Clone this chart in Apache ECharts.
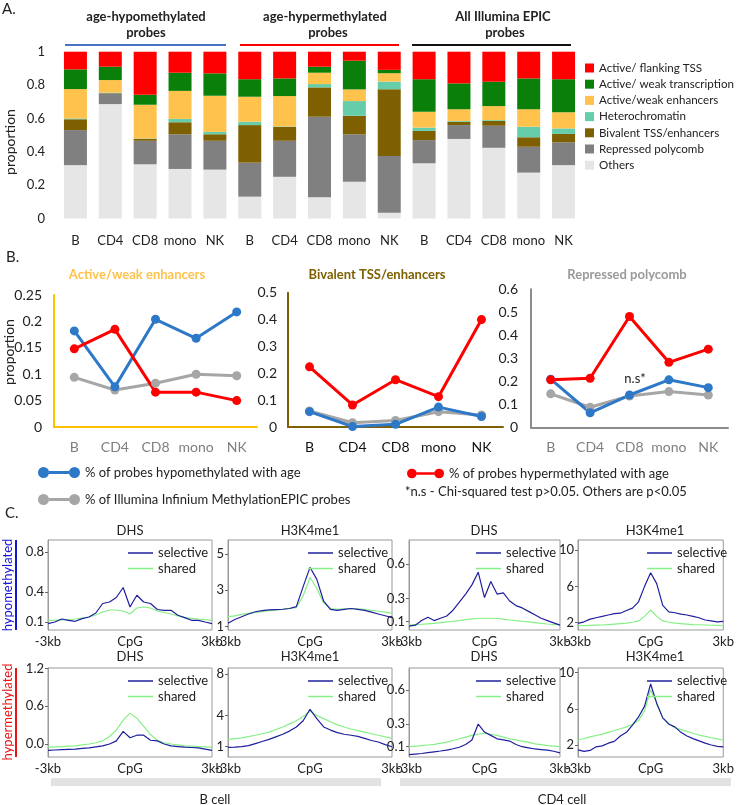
<!DOCTYPE html>
<html><head><meta charset="utf-8">
<script src="https://cdn.jsdelivr.net/npm/echarts@6/dist/echarts.min.js"></script>
<style>html,body{margin:0;padding:0;background:#fff}#c{width:737px;height:805px}</style>
</head><body><div id="c"></div>
<script>
// ---------- Panel A data ----------
const cellCats = ['B','CD4','CD8','mono','NK','B','CD4','CD8','mono','NK','B','CD4','CD8','mono','NK'];
const stateNames = ['Others','Repressed polycomb','Bivalent TSS/enhancers','Heterochromatin','Active/weak enhancers','Active/ weak transcription','Active/ flanking TSS'];
const others      = [0.32,0.686,0.325,0.297,0.293, 0.131,0.25,0.127,0.22,0.035, 0.331,0.477,0.424,0.275,0.32];
const repressed   = [0.21,0.064,0.141,0.208,0.173, 0.204,0.216,0.483,0.285,0.34, 0.139,0.083,0.132,0.155,0.137];
const bivalent    = [0.065,0.002,0.012,0.072,0.039, 0.225,0.083,0.176,0.111,0.4, 0.055,0.02,0.029,0.057,0.05];
const hetero      = [0.005,0.003,0.002,0.02,0.014, 0.02,0.003,0.02,0.088,0.046, 0.02,0.005,0.005,0.063,0.033];
const enhancers   = [0.176,0.075,0.202,0.168,0.217, 0.15,0.182,0.068,0.07,0.05, 0.095,0.07,0.084,0.105,0.097];
const transcr     = [0.118,0.08,0.06,0.109,0.134, 0.105,0.106,0.036,0.172,0.02, 0.195,0.155,0.146,0.185,0.198];
const flankTSS    = [0.106,0.09,0.26,0.126,0.13, 0.165,0.16,0.09,0.054,0.11, 0.165,0.19,0.18,0.16,0.165];
const yTicksA = [0,0.2,0.4,0.6,0.8,1];

// ---------- Panel B data ----------
const cellsB = ['B','CD4','CD8','mono','NK'];
const nameHypo = '% of probes hypomethylated with age';
const nameHyper = '% of probes hypermethylated with age';
const nameEpic = '% of Illumina Infinium MethylationEPIC probes';
const enhHypo  = [0.182,0.076,0.204,0.168,0.218];
const enhHyper = [0.148,0.185,0.066,0.066,0.05];
const enhEpic  = [0.094,0.07,0.083,0.1,0.097];
const bivHypo  = [0.057,0.002,0.01,0.074,0.039];
const bivHyper = [0.224,0.082,0.176,0.113,0.40];
const bivEpic  = [0.06,0.016,0.024,0.057,0.045];
const polyHypo = [0.21,0.064,0.141,0.207,0.173];
const polyHyper= [0.207,0.214,0.482,0.283,0.34];
const polyEpic = [0.146,0.088,0.137,0.156,0.141];

// ---------- Panel C data ----------
const kb = [-3,-2.75,-2.5,-2.25,-2,-1.75,-1.5,-1.25,-1,-0.75,-0.5,-0.25,0,0.25,0.5,0.75,1,1.25,1.5,1.75,2,2.25,2.5,2.75,3];
const dhsBHypoSel = [0.084,0.10,0.13,0.117,0.107,0.134,0.15,0.19,0.285,0.30,0.345,0.445,0.25,0.368,0.30,0.285,0.225,0.217,0.217,0.167,0.144,0.117,0.117,0.10,0.084];
const dhsBHypoSh  = [0.117,0.118,0.12,0.125,0.13,0.14,0.15,0.17,0.2,0.22,0.22,0.21,0.18,0.24,0.25,0.24,0.21,0.195,0.18,0.16,0.144,0.137,0.13,0.123,0.117];
const h3BHypoSel  = [1.19,1.4,1.55,1.7,1.82,1.88,1.92,1.94,1.96,2.0,2.1,3.2,4.26,3.6,2.4,1.95,1.9,1.95,2.0,1.95,1.9,1.8,1.7,1.6,1.5];
const h3BHypoSh   = [1.55,1.6,1.68,1.73,1.78,1.83,1.88,1.92,1.95,2.0,2.05,2.7,3.7,3.1,2.3,2.0,1.95,1.98,2.0,1.98,1.95,1.9,1.85,1.8,1.75];
const dhsCD4HypoSel = [0.062,0.07,0.11,0.138,0.11,0.13,0.15,0.2,0.27,0.34,0.42,0.53,0.31,0.45,0.34,0.35,0.28,0.24,0.22,0.19,0.16,0.13,0.11,0.09,0.07];
const dhsCD4HypoSh  = [0.07,0.074,0.078,0.082,0.086,0.092,0.098,0.104,0.11,0.118,0.125,0.128,0.13,0.13,0.128,0.122,0.115,0.11,0.104,0.098,0.092,0.086,0.08,0.076,0.072];
const h3CD4HypoSel  = [1.93,2.1,2.4,2.55,2.7,2.85,3.0,3.05,3.35,3.6,4.3,6.0,7.5,6.3,3.9,3.2,3.1,2.95,2.85,2.7,2.55,2.3,2.2,2.1,2.15];
const h3CD4HypoSh   = [1.67,1.69,1.71,1.73,1.75,1.8,1.85,1.9,1.95,2.05,2.2,2.7,3.4,2.7,2.2,2.05,1.95,1.9,1.85,1.8,1.78,1.75,1.72,1.7,1.67];
const dhsBHyperSel  = [-0.1,-0.095,-0.09,-0.085,-0.08,-0.07,-0.06,-0.045,-0.03,0.0,0.05,0.2,0.1,0.14,0.14,0.06,0.05,0.0,-0.03,-0.04,-0.05,-0.055,-0.06,-0.08,-0.1];
const dhsBHyperSh   = [-0.05,-0.045,-0.04,-0.035,-0.03,-0.015,0.0,0.02,0.05,0.12,0.22,0.38,0.49,0.41,0.28,0.15,0.06,0.02,0.0,-0.015,-0.03,-0.035,-0.04,-0.045,-0.05];
const h3BHyperSel   = [0.94,0.96,1.0,1.1,1.3,1.5,1.7,1.95,2.2,2.5,2.9,3.5,4.6,3.7,2.9,2.6,2.35,2.2,2.1,2.0,1.8,1.6,1.45,1.2,1.0];
const h3BHyperSh    = [1.7,1.78,1.85,1.97,2.1,2.25,2.4,2.65,2.9,3.2,3.5,3.9,4.4,4.0,3.7,3.4,3.1,2.9,2.7,2.55,2.4,2.25,2.1,1.95,1.8];
const dhsCD4HyperSel= [0.03,0.035,0.04,0.048,0.055,0.062,0.07,0.082,0.095,0.12,0.16,0.3,0.23,0.2,0.17,0.16,0.15,0.12,0.1,0.09,0.08,0.075,0.07,0.06,0.045];
const dhsCD4HyperSh = [0.1,0.105,0.11,0.115,0.12,0.13,0.14,0.155,0.17,0.185,0.2,0.21,0.22,0.21,0.2,0.185,0.17,0.16,0.15,0.14,0.125,0.118,0.11,0.105,0.1];
const h3CD4HyperSel = [1.45,1.3,1.4,1.8,1.9,2.2,2.4,3.0,3.4,4.2,5.1,6.3,8.75,6.6,5.0,4.3,4.0,3.4,3.0,2.7,2.45,2.2,2.0,1.85,1.8];
const h3CD4HyperSh  = [2.55,2.72,2.9,3.05,3.2,3.4,3.6,3.8,4.0,4.3,4.7,5.8,8.1,6.7,5.0,4.4,3.9,3.7,3.5,3.3,3.1,2.95,2.8,2.68,2.55];
const xTicksC = [-3,0,3];
const xLabelsC = ['-3kb','CpG','3kb'];

// ---------- styling ----------
const FONT = 'Lato, "Noto Sans", sans-serif';
const stateColors = ['#E6E6E6','#808080','#7F6000','#66CDAA','#FFC24D','#0A800A','#FF0000'];
const C_BLUE = '#2E78C8', C_RED = '#FF0000', C_GRAY = '#A6A6A6';
const C_SEL = '#1F1F9E', C_SH = '#86F086';

const grids = [], xAxes = [], yAxes = [], series = [], legends = [];

// Panel A
grids.push({left:58, top:51.7, width:523, height:166.8});
xAxes.push({type:'category', gridIndex:0, data:cellCats, axisLine:{show:false}, axisTick:{show:false},
  axisLabel:{interval:0, margin:16, fontSize:13, color:'#222', fontFamily:FONT}});
yAxes.push({type:'value', gridIndex:0, min:yTicksA[0], max:yTicksA[yTicksA.length-1], interval:0.2, splitLine:{show:false},
  axisLine:{show:false}, axisTick:{show:false}, axisLabel:{fontSize:13, color:'#222', margin:13, fontFamily:FONT}});
const stateData = [others, repressed, bivalent, hetero, enhancers, transcr, flankTSS];
stateNames.forEach((n,i)=>{
  series.push({type:'bar', name:n, stack:'A', xAxisIndex:0, yAxisIndex:0, data:stateData[i], barWidth:23,
    itemStyle:{color:stateColors[i]}, emphasis:{disabled:true}});
});
legends.push({data:stateNames.slice().reverse(), left:580, top:56, orient:'vertical', icon:'rect',
  itemWidth:9, itemHeight:9, itemGap:2.2, selectedMode:false,
  textStyle:{fontSize:11.6, lineHeight:14, color:'#222', fontFamily:FONT}});

// Panel B
const bPanels = [
  {left:54, top:295, width:203, height:132, max:0.25, interval:0.05, axisColor:'#FFC000', labelColor:'#7F7F7F', hypo:enhHypo, hyper:enhHyper, epic:enhEpic, margin:12},
  {left:288, top:292.7, width:215, height:134.3, max:0.5, interval:0.1, axisColor:'#7F6000', labelColor:'#111', hypo:bivHypo, hyper:bivHyper, epic:bivEpic, margin:11},
  {left:531, top:289.3, width:197, height:138.2, max:0.6, interval:0.1, axisColor:'#8C8C8C', labelColor:'#7F7F7F', hypo:polyHypo, hyper:polyHyper, epic:polyEpic, margin:13}
];
bPanels.forEach((p,k)=>{
  const gi = grids.length;
  grids.push({left:p.left, top:p.top, width:p.width, height:p.height});
  xAxes.push({type:'category', gridIndex:gi, data:cellsB, axisLine:{lineStyle:{color:p.axisColor, width:2}}, axisTick:{show:false},
    axisLabel:{interval:0, margin:13, fontSize:14, color:p.labelColor, fontFamily:FONT}});
  yAxes.push({type:'value', gridIndex:gi, min:0, max:p.max, interval:p.interval, splitLine:{show:false},
    axisLine:{show:true, lineStyle:{color:p.axisColor, width:2}}, axisTick:{show:false},
    axisLabel:{fontSize:14, color:'#222', margin:p.margin, fontFamily:FONT}});
  [[nameEpic,p.epic,C_GRAY],[nameHypo,p.hypo,C_BLUE],[nameHyper,p.hyper,C_RED]].forEach(([n,d,c])=>{
    series.push({type:'line', name:n, xAxisIndex:gi, yAxisIndex:gi, data:d, symbol:'circle', symbolSize:9,
      color:c, lineStyle:{width:3, color:c}, itemStyle:{color:c}, emphasis:{disabled:true}});
  });
});
const dumbbell = 'path://M0,5.5A5.5,5.5,0,1,0,11,5.5A5.5,5.5,0,1,0,0,5.5ZM31,5.5A5.5,5.5,0,1,0,42,5.5A5.5,5.5,0,1,0,31,5.5ZM10.8,4L31.2,4L31.2,7L10.8,7Z';
legends.push({data:[nameHypo, nameEpic], left:33, top:461, orient:'vertical', icon:dumbbell, itemWidth:42, itemHeight:11,
  itemGap:14, selectedMode:false, textStyle:{fontSize:13, color:'#222', fontFamily:FONT}});
legends.push({data:[nameHyper], left:402, top:462, orient:'vertical', icon:dumbbell, itemWidth:37, itemHeight:10,
  selectedMode:false, textStyle:{fontSize:13, color:'#222', fontFamily:FONT}});

// Panel C
const cCols = [[48,164],[228,164],[409,151],[578,153]];
const cRows = [[540,90],[668,89]];
const cBoxes = [
  {r:0,c:0, sel:dhsBHypoSel, sh:dhsBHypoSh, min:0.02, max:0.92, ticks:[0.1,0.4,0.8], fmt:v=>v.toFixed(1)},
  {r:0,c:1, sel:h3BHypoSel, sh:h3BHypoSh, min:0.82, max:5.76, ticks:[1,3,5], fmt:v=>String(v)},
  {r:0,c:2, sel:dhsCD4HypoSel, sh:dhsCD4HypoSh, min:0.028, max:0.81, ticks:[0.1,0.3,0.6], fmt:v=>v.toFixed(1)},
  {r:0,c:3, sel:h3CD4HypoSel, sh:h3CD4HypoSh, min:1.2, max:11.1, ticks:[2,6,10], fmt:v=>String(v)},
  {r:1,c:0, sel:dhsBHyperSel, sh:dhsBHyperSh, min:-0.206, max:1.206, ticks:[0,0.6,1.2], fmt:v=>v.toFixed(1)},
  {r:1,c:1, sel:h3BHyperSel, sh:h3BHyperSh, min:0.01, max:8.57, ticks:[1,4,8], fmt:v=>String(v)},
  {r:1,c:2, sel:dhsCD4HyperSel, sh:dhsCD4HyperSh, min:0.009, max:0.796, ticks:[0.1,0.3,0.6], fmt:v=>v.toFixed(1)},
  {r:1,c:3, sel:h3CD4HyperSel, sh:h3CD4HyperSh, min:0.67, max:10.52, ticks:[2,6,10], fmt:v=>String(v)}
];
cBoxes.forEach(b=>{
  const gi = grids.length;
  const [L,W] = cCols[b.c], [T,H] = cRows[b.r];
  grids.push({left:L, top:T, width:W, height:H, show:true, borderColor:'#9A9A9A', borderWidth:1, backgroundColor:'transparent'});
  xAxes.push({type:'value', gridIndex:gi, min:xTicksC[0], max:xTicksC[2], interval:3, splitLine:{show:false},
    axisLine:{show:false, onZero:false}, axisTick:{show:false},
    axisLabel:{fontSize:13, color:'#222', margin:5, fontFamily:FONT, formatter:v=>xLabelsC[xTicksC.indexOf(v)]}});
  yAxes.push({type:'value', gridIndex:gi, min:b.min, max:b.max, splitLine:{show:false},
    axisLine:{show:true, onZero:false, lineStyle:{color:'#9A9A9A'}},
    axisTick:{show:true, length:3, customValues:b.ticks, lineStyle:{color:'#666'}},
    axisLabel:{customValues:b.ticks, fontSize:13, color:'#222', margin:4, fontFamily:FONT, formatter:b.fmt}});
  series.push({type:'line', name:'shared', xAxisIndex:gi, yAxisIndex:gi, data:kb.map((x,i)=>[x,b.sh[i]]),
    showSymbol:false, symbol:'none', color:C_SH, lineStyle:{width:1.2, color:C_SH}, emphasis:{disabled:true}});
  series.push({type:'line', name:'selective', xAxisIndex:gi, yAxisIndex:gi, data:kb.map((x,i)=>[x,b.sel[i]]),
    showSymbol:false, symbol:'none', color:C_SEL, lineStyle:{width:1.2, color:C_SEL}, emphasis:{disabled:true}});
  legends.push({data:['selective','shared'], left:L+W-89, top:T+1, orient:'vertical', icon:'rect', itemWidth:25, itemHeight:1.5,
    itemGap:1.5, selectedMode:false, textStyle:{fontSize:13, lineHeight:14, color:'#222', fontFamily:FONT}});
});

// ---------- decorative text / lines ----------
function txt(text,x,y,opt){opt=opt||{};return {type:'text', x:x, y:y, rotation:opt.rot||0, silent:true, z:10,
  style:{text:text, fill:opt.color||'#222', font:(opt.weight||'normal')+' '+(opt.size||13)+'px '+FONT,
  textAlign:opt.align||'center', textVerticalAlign:'middle'}};}
function ln(x1,y1,x2,y2,color,w){return {type:'line', silent:true, shape:{x1,y1,x2,y2}, style:{stroke:color, lineWidth:w||2}};}
const graphics = [
  txt('A.',2,9,{align:'left',size:15}),
  txt('age-hypomethylated',146,17,{weight:'bold'}), txt('probes',146,33,{weight:'bold'}),
  txt('age-hypermethylated',325,17,{weight:'bold'}), txt('probes',328,33,{weight:'bold'}),
  txt('All Illumina EPIC',503,17,{weight:'bold'}), txt('probes',505,33,{weight:'bold'}),
  ln(65,45,226,45,'#4472C4'), ln(240,45,399,45,'#FF0000'), ln(412,45,571,45,'#111'),
  txt('proportion',10,142,{rot:Math.PI/2,size:14}),
  txt('B.',6,257,{align:'left',size:15}),
  txt('Active/weak enhancers',137,275,{weight:'bold',color:'#FFC24D',size:13}),
  txt('Bivalent TSS/enhancers',377,275,{weight:'bold',color:'#7F6000',size:13}),
  txt('Repressed polycomb',627,275,{weight:'bold',color:'#9A9A9A',size:13}),
  txt('proportion',9,352,{rot:Math.PI/2,size:14}),
  txt('n.s*',635,379,{size:13}),
  txt('*n.s - Chi-squared test p>0.05. Others are p<0.05',405,492,{align:'left',size:13}),
  txt('C.',5,513,{align:'left',size:15}),
  txt('DHS',130,531), txt('H3K4me1',310,531), txt('DHS',484,531), txt('H3K4me1',655,531),
  txt('DHS',130,657), txt('H3K4me1',310,657), txt('DHS',484,657), txt('H3K4me1',655,657),
  txt('hypomethylated',8,585,{rot:Math.PI/2,color:'#1515D5'}), ln(16,540,16,630,'#1515D5',2),
  txt('hypermethylated',8,712,{rot:Math.PI/2,color:'#E81515'}), ln(16,668,16,757,'#E81515',2),
  {type:'rect', silent:true, shape:{x:51,y:778,width:330,height:8}, style:{fill:'#E2E2E2'}},
  {type:'rect', silent:true, shape:{x:400,y:778,width:331,height:8}, style:{fill:'#E2E2E2'}},
  txt('B cell',215,800), txt('CD4 cell',562,800)
];

const chart = echarts.init(document.getElementById('c'), null, {renderer:'canvas'});
chart.setOption({
  animation:false, backgroundColor:'#fff',
  textStyle:{fontFamily:FONT},
  grid:grids, xAxis:xAxes, yAxis:yAxes, series:series, legend:legends, graphic:graphics
});
</script></body></html>
